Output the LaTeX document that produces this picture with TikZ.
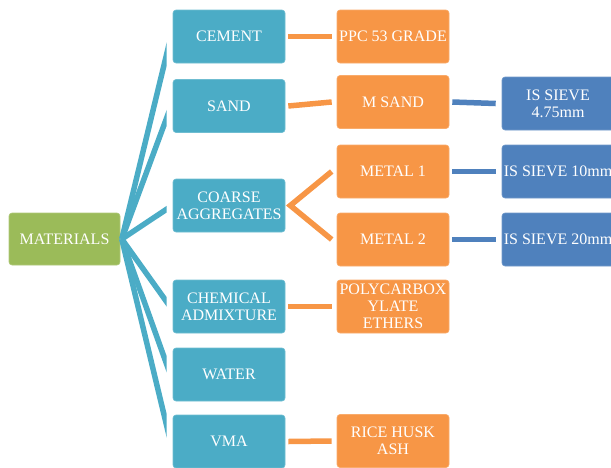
\documentclass[tikz,border=0pt]{standalone}
\usepackage{fontspec}
\setmainfont{Liberation Serif}
\definecolor{cteal}{HTML}{4BACC6}
\definecolor{corange}{HTML}{F79646}
\definecolor{cblue}{HTML}{4F81BD}
\definecolor{cgreen}{HTML}{9BBB59}
\begin{document}
\begin{tikzpicture}[x=1pt,y=-1pt,
  box/.style={rounded corners=3pt, minimum width=112pt, minimum height=53pt,
    inner sep=0pt, align=center, text=white,
    font=\fontsize{16}{16.8}\selectfont},
  tealbox/.style={box, fill=cteal, draw=cteal!80!white, line width=0.6pt},
  orbox/.style={box, fill=corange, draw=corange!80!white, line width=0.6pt},
  bluebox/.style={box, fill=cblue, draw=cblue!80!white, line width=0.6pt},
  greenbox/.style={box, fill=cgreen, draw=cgreen!80!white, line width=0.6pt, minimum width=111pt, minimum height=52pt},
  tline/.style={draw=cteal, line width=5.5pt},
  oline/.style={draw=corange, line width=5.5pt},
  bline/.style={draw=cblue, line width=5.5pt},
]
\useasboundingbox (0,0) rectangle (611,467);

\node[greenbox] (mat) at (64.5,239) {MATERIALS};

\node[tealbox] (cement) at (229,36.5) {CEMENT};
\node[tealbox] (sand) at (229,106) {SAND};
\node[tealbox] (coarse) at (229,205.5) {COARSE\\AGGREGATES};
\node[tealbox] (chem) at (229,306.5) {CHEMICAL\\ADMIXTURE};
\node[tealbox] (water) at (229,374.5) {WATER};
\node[tealbox] (vma) at (229,441.5) {VMA};

\node[orbox] (ppc) at (393,36.5) {PPC 53 GRADE};
\node[orbox] (msand) at (393,102) {M SAND};
\node[orbox] (metal1) at (393,171.5) {METAL 1};
\node[orbox] (metal2) at (393,239.5) {METAL 2};
\node[orbox] (poly) at (393,306.5) {POLYCARBOX\\YLATE\\ETHERS};
\node[orbox] (rice) at (393,441) {RICE HUSK\\ASH};

\node[bluebox] (is475) at (558,103.5) {IS SIEVE\\4.75mm};
\node[bluebox] (is10) at (558,171.5) {IS SIEVE 10mm};
\node[bluebox] (is20) at (558,239.5) {IS SIEVE 20mm};

% teal connectors, cut vertically short of the boxes
\coordinate (apex) at ([xshift=1.5pt]mat.east);
\coordinate (clipL) at ([xshift=-6pt]apex);
\coordinate (cut) at ([xshift=-6pt]cement.west);
\begin{scope}
  \clip (clipL |- 0,-10) rectangle (cut |- 0,480);
  \foreach \c in {cement,sand,coarse,chem,water,vma}{
    \draw[tline] (apex) -- ([xshift=-2pt,yshift=-1pt]\c.west);
  }
\end{scope}

% orange connectors
\draw[oline] ([xshift=3pt]cement.east) -- ([xshift=-5pt]ppc.west);
\draw[oline] ([xshift=3pt]sand.east) -- ([xshift=-5pt]msand.west);
\draw[oline] ([xshift=-5pt]metal1.west) -- ([xshift=5pt]coarse.east) -- ([xshift=-5pt]metal2.west);
\draw[oline] ([xshift=3pt]chem.east) -- ([xshift=-5pt]poly.west);
\draw[oline] ([xshift=3pt]vma.east) -- ([xshift=-5pt]rice.west);

% blue connectors
\draw[bline] ([xshift=3pt]msand.east) -- ([xshift=-6pt]is475.west);
\draw[bline] ([xshift=3pt]metal1.east) -- ([xshift=-6pt]is10.west);
\draw[bline] ([xshift=3pt]metal2.east) -- ([xshift=-6pt]is20.west);
\end{tikzpicture}
\end{document}
